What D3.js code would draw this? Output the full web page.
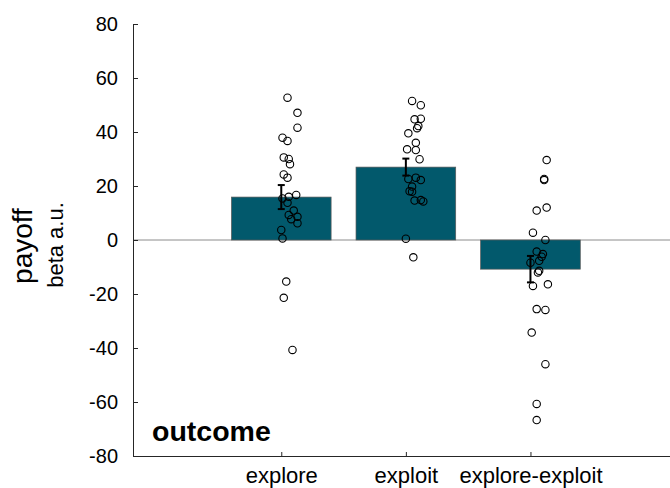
<!DOCTYPE html>
<html>
<head>
<meta charset="utf-8">
<script src="https://cdn.jsdelivr.net/npm/d3@7"></script>
<style>
  html, body { margin: 0; padding: 0; background: #fff; }
  svg { display: block; }
  text { font-family: "Liberation Sans", Arial, Helvetica, sans-serif; fill: #000; }
</style>
</head>
<body>
<svg id="chart" width="670" height="488"></svg>
<script>
// ---- data ----
const categories = ["explore", "exploit", "explore-exploit"];
const means = [15.9, 27.0, -10.8];
const sems = [4.45, 3.15, 4.9];
const yTicks = [-80, -60, -40, -20, 0, 20, 40, 60, 80];

const pointsExplore = [52.7, 47.1, 41.6, 37.9, 36.7, 30.6, 30.0, 28.1, 24.3, 23.1, 16.7, 16.0, 15.4, 13.8, 10.9, 9.3, 8.6, 7.7, 6.2, 3.7, 0.6, -15.4, -21.4, -40.7];
const jitterExplore = [0.05, 0.13, 0.13, 0.01, 0.05, 0.02, 0.06, 0.07, 0.02, 0.05, 0.12, 0.06, 0.01, 0.05, 0.10, 0.06, 0.13, 0.08, 0.13, 0.00, 0.01, 0.04, 0.02, 0.09];

const pointsExploit = [51.5, 49.9, 44.7, 44.9, 42.2, 41.4, 39.5, 36.0, 33.6, 33.3, 29.9, 22.6, 23.1, 22.2, 19.8, 18.1, 17.9, 14.6, 14.8, 14.3, 0.5, -6.4];
const jitterExploit = [0.05, 0.12, 0.07, 0.12, 0.10, 0.09, 0.02, 0.08, 0.01, 0.08, 0.11, 0.02, 0.08, 0.12, 0.05, 0.03, 0.05, 0.07, 0.12, 0.14, 0.00, 0.06];

const pointsDiff = [29.6, 22.6, 22.2, 10.9, 12.0, 2.7, 0.0, -4.3, -5.2, -6.2, -7.7, -8.4, -11.4, -12.0, -17.0, -16.4, -25.6, -25.9, -34.3, -46.0, -60.7, -66.7];
const jitterDiff = [0.13, 0.11, 0.11, 0.05, 0.13, 0.02, 0.12, 0.05, 0.10, 0.09, 0.07, 0.00, 0.07, 0.06, 0.02, 0.14, 0.05, 0.12, 0.01, 0.12, 0.05, 0.05];

const groupPoints = [pointsExplore, pointsExploit, pointsDiff];
const groupJitter = [jitterExplore, jitterExploit, jitterDiff];

// ---- layout ----
const svg = d3.select("#chart");
const axisColor = "#262626";
const barColor = "#02596C";

const x = d3.scaleLinear().domain([-0.19, 4.12]).range([133, 670]);
const y = d3.scaleLinear().domain([-80, 80]).range([456, 24]);
const barW = 0.8;

// zero line
svg.append("line")
  .attr("x1", x(-0.19)).attr("x2", x(4.12))
  .attr("y1", y(0)).attr("y2", y(0))
  .attr("stroke", "#8c8c8c").attr("stroke-width", 1);

// bars
svg.append("g").selectAll("rect")
  .data(means)
  .join("rect")
  .attr("x", (d, i) => x(i + 1 - barW / 2))
  .attr("width", (d, i) => x(i + 1 + barW / 2) - x(i + 1 - barW / 2))
  .attr("y", d => y(Math.max(0, d)))
  .attr("height", d => Math.abs(y(d) - y(0)))
  .attr("fill", barColor)
  .attr("stroke", "#5a5a5a")
  .attr("stroke-width", 0.7);

// points
groupPoints.forEach((pts, gi) => {
  svg.append("g").selectAll("circle")
    .data(pts)
    .join("circle")
    .attr("cx", (d, i) => x(gi + 1 + groupJitter[gi][i]))
    .attr("cy", d => y(d))
    .attr("r", 3.7)
    .attr("fill", "none")
    .attr("stroke", "#000")
    .attr("stroke-width", 1.1);
});

// error bars
const eb = svg.append("g").attr("stroke", "#000").attr("stroke-width", 2);
means.forEach((m, i) => {
  const cx = x(i + 1);
  eb.append("line").attr("x1", cx).attr("x2", cx).attr("y1", y(m - sems[i])).attr("y2", y(m + sems[i]));
  [m - sems[i], m + sems[i]].forEach(v => {
    eb.append("line").attr("x1", cx - 3.5).attr("x2", cx + 3.5).attr("y1", y(v)).attr("y2", y(v));
  });
});

// y axis
const yAxis = svg.append("g")
  .attr("transform", `translate(${x(-0.19)},0)`)
  .call(d3.axisLeft(y).tickValues(yTicks).tickSizeInner(-5).tickSizeOuter(0).tickPadding(15).tickFormat(d => String(d)));
yAxis.select(".domain").attr("stroke", axisColor);
yAxis.selectAll(".tick line").attr("stroke", axisColor);
yAxis.selectAll(".tick text")
  .attr("font-size", 20)
  .attr("fill", "#000")
  .style("font-family", '"Liberation Sans", Arial, sans-serif');

// x axis
const xAxis = svg.append("g")
  .attr("transform", `translate(0,${y(-80)})`)
  .call(d3.axisBottom(x).tickValues([1, 2, 3]).tickSizeInner(-4).tickSizeOuter(0).tickPadding(11)
    .tickFormat(d => categories[d - 1]));
xAxis.select(".domain").attr("stroke", axisColor);
xAxis.selectAll(".tick line").attr("stroke", axisColor);
xAxis.selectAll(".tick text")
  .attr("font-size", 22)
  .attr("fill", "#000")
  .style("font-family", '"Liberation Sans", Arial, sans-serif');

// y labels
svg.append("text")
  .attr("transform", `translate(32,246) rotate(-90)`)
  .attr("text-anchor", "middle")
  .attr("font-size", 28)
  .text("payoff");
svg.append("text")
  .attr("transform", `translate(63,245) rotate(-90)`)
  .attr("text-anchor", "middle")
  .attr("font-size", 22)
  .text("beta a.u.");

// panel label
svg.append("text")
  .attr("x", 152).attr("y", 441)
  .attr("font-size", 28.5)
  .attr("font-weight", "bold")
  .text("outcome");
</script>
</body>
</html>
